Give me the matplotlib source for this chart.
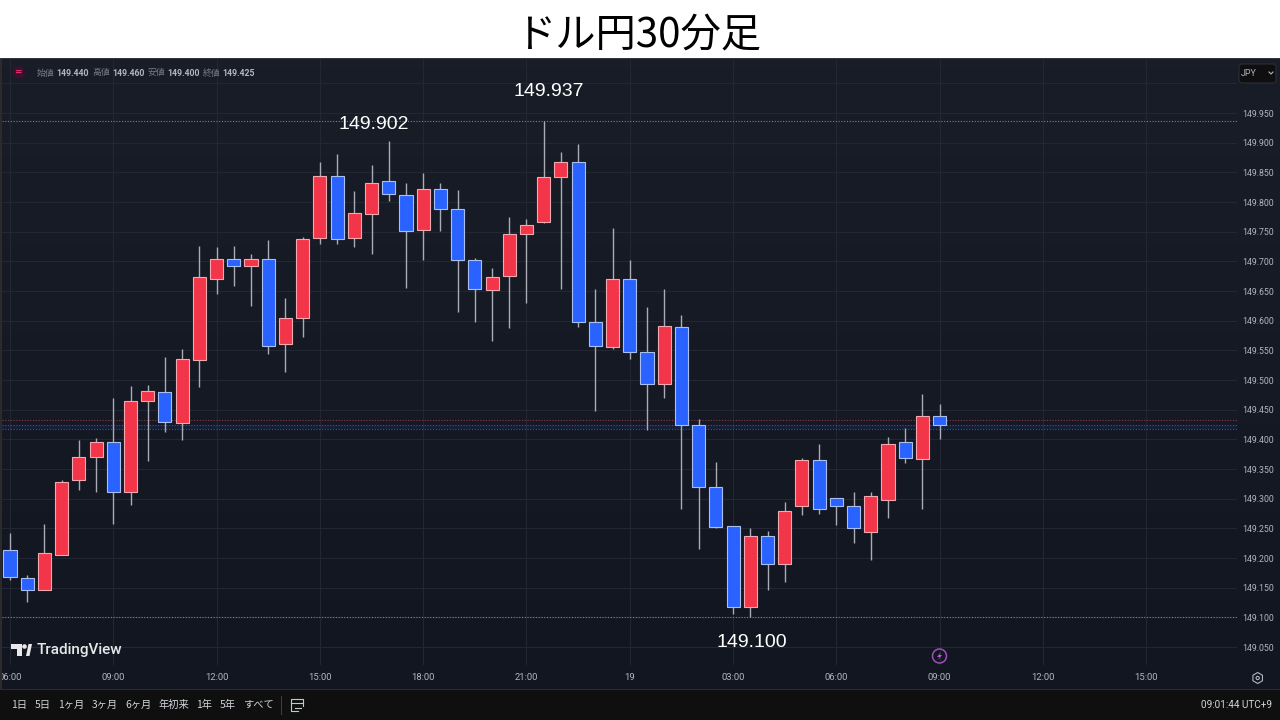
"""
Dollar-yen 30 minute candles, TradingView dark look.
"""
import matplotlib

matplotlib.use("Agg")
import matplotlib.pyplot as plt
import numpy as np
from matplotlib.patches import Circle, FancyBboxPatch, Polygon, Rectangle, RegularPolygon

W, H = 1280, 720
CJK = ["Noto Sans CJK JP", "DejaVu Sans"]
UI_FONT = "Roboto"

opens = [149.214, 149.166, 149.147, 149.205, 149.332, 149.370, 149.396, 149.311, 149.465, 149.480,
         149.428, 149.534, 149.671, 149.704, 149.692, 149.704, 149.560, 149.604, 149.739, 149.844,
         149.739, 149.780, 149.835, 149.812, 149.753, 149.822, 149.789, 149.703, 149.652, 149.675,
         149.746, 149.766, 149.842, 149.868, 149.598, 149.555, 149.670, 149.548, 149.493, 149.589,
         149.424, 149.320, 149.254, 149.118, 149.237, 149.190, 149.287, 149.366, 149.301, 149.288,
         149.244, 149.298, 149.396, 149.367, 149.440]
highs = [149.243, 149.171, 149.257, 149.331, 149.399, 149.403, 149.469, 149.490, 149.492, 149.539,
         149.552, 149.726, 149.725, 149.726, 149.712, 149.736, 149.638, 149.741, 149.868, 149.881,
         149.819, 149.862, 149.902, 149.832, 149.849, 149.832, 149.820, 149.705, 149.688, 149.774,
         149.771, 149.937, 149.885, 149.898, 149.653, 149.757, 149.703, 149.623, 149.653, 149.609,
         149.434, 149.362, 149.254, 149.250, 149.245, 149.294, 149.369, 149.393, 149.302, 149.312,
         149.311, 149.404, 149.419, 149.477, 149.460]
lows = [149.163, 149.126, 149.146, 149.205, 149.315, 149.311, 149.258, 149.290, 149.364, 149.413,
        149.399, 149.489, 149.645, 149.659, 149.624, 149.544, 149.514, 149.573, 149.729, 149.730,
        149.724, 149.712, 149.802, 149.655, 149.703, 149.751, 149.615, 149.598, 149.565, 149.588,
        149.630, 149.765, 149.653, 149.590, 149.448, 149.552, 149.535, 149.416, 149.469, 149.283,
        149.215, 149.250, 149.106, 149.100, 149.147, 149.160, 149.273, 149.275, 149.255, 149.225,
        149.196, 149.268, 149.361, 149.283, 149.400]
closes = [149.168, 149.147, 149.209, 149.329, 149.370, 149.396, 149.311, 149.465, 149.482, 149.429,
          149.535, 149.673, 149.704, 149.692, 149.704, 149.558, 149.605, 149.738, 149.844, 149.737,
          149.781, 149.832, 149.813, 149.752, 149.822, 149.788, 149.703, 149.653, 149.674, 149.746,
          149.762, 149.843, 149.867, 149.598, 149.558, 149.670, 149.548, 149.494, 149.591, 149.424,
          149.319, 149.252, 149.118, 149.237, 149.190, 149.280, 149.366, 149.282, 149.287, 149.251,
          149.304, 149.392, 149.368, 149.439, 149.425]

price_ticks = [149.05, 149.10, 149.15, 149.20, 149.25, 149.30, 149.35, 149.40, 149.45, 149.50,
               149.55, 149.60, 149.65, 149.70, 149.75, 149.80, 149.85, 149.90, 149.95]
grid_only_prices = [150.00]
time_ticks = [0, 6, 12, 18, 24, 30, 36, 42, 48, 54, 60, 66]
time_labels = ["06:00", "09:00", "12:00", "15:00", "18:00", "21:00", "19",
               "03:00", "06:00", "09:00", "12:00", "15:00"]
range_labels = ["1日", "5日", "1ヶ月", "3ヶ月", "6ヶ月", "年初来", "1年", "5年", "すべて"]
range_centers = [19.5, 43, 71, 104.5, 138, 173.5, 204.5, 227.5, 258.5]
header_names = ["始値", "高値", "安値", "終値"]

# high/low marker lines and the current price lines
level_high = 149.937
level_low = 149.100
level_red = 149.433
level_blue = [149.425, 149.417]

UP = "#f23548"
DOWN = "#2962ff"
UP_EDGE = "#f2a9b0"
DOWN_EDGE = "#a9bff2"
WICK = "#a9acb4"
GRID = "#232733"
LABEL = "#b2b5be"


def fx(x):
    return x / W


def fy(y):
    return 1 - y / H


fig = plt.figure(figsize=(W / 100, H / 100), dpi=100, facecolor="white")

# gradient pane behind the chart
bg = fig.add_axes([0, fy(690), 1, (690 - 58) / H], zorder=-2)
shade = np.linspace(0, 1, 64)[:, None, None]
top_col = np.array([25, 29, 40])[None, None, :] / 255
bottom_col = np.array([18, 22, 32])[None, None, :] / 255
bg.imshow(top_col * (1 - shade) + bottom_col * shade, aspect="auto")
bg.axis("off")

ax = fig.add_axes([fx(2), fy(665), (1237 - 2) / W, (665 - 58) / H], zorder=1)
ax.patch.set_visible(False)
for s in ax.spines.values():
    s.set_visible(False)

x = np.arange(len(opens))
o, h, l, c = map(np.array, (opens, highs, lows, closes))
up = c >= o

ax.vlines(x, l, h, color=WICK, lw=1.0, zorder=3)
ax.bar(x[up], (c - o)[up], bottom=o[up], width=0.76, color=UP, edgecolor=UP_EDGE, lw=0.8, zorder=4)
ax.bar(x[~up], (c - o)[~up], bottom=o[~up], width=0.76, color=DOWN, edgecolor=DOWN_EDGE, lw=0.8, zorder=4)

ax.set_xlim(-0.465, 71.27)
ax.set_ylim(149.0198, 150.0427)

for p in price_ticks + grid_only_prices:
    ax.axhline(p, color=GRID, lw=0.8, zorder=1)
for t in time_ticks:
    ax.axvline(t, color=GRID, lw=0.8, zorder=1)

ax.axhline(level_high, color="#7d808a", lw=0.8, ls=(0, (1, 1.5)), zorder=2)
ax.axhline(level_low, color="#7d808a", lw=0.8, ls=(0, (1, 1.5)), zorder=2)
ax.axhspan(level_blue[1], level_blue[0], color="#2962ff", alpha=0.10, lw=0, zorder=2)
ax.axhline(level_red, color="#8c3a48", lw=0.8, ls=(0, (1, 1.5)), zorder=2)
for p in level_blue:
    ax.axhline(p, color="#3553b0", lw=0.8, ls=(0, (1, 1.5)), zorder=2)

ax.yaxis.tick_right()
ax.set_yticks(price_ticks, [f"{p:.3f}" for p in price_ticks], fontfamily=UI_FONT, fontsize=6.3, color=LABEL)
ax.set_xticks(time_ticks, time_labels, fontfamily=UI_FONT, fontsize=6.8, color=LABEL)
ax.tick_params(axis="both", length=0)
ax.tick_params(axis="y", pad=4)
ax.tick_params(axis="x", pad=5.5)

# pixel offsets from the extreme to the hand placed labels
i_a, i_b, i_c = 22, 31, 43
for i, val, off in [(i_a, highs[i_a], (-15, 17)), (i_b, highs[i_b], (5, 29)), (i_c, lows[i_c], (2, -25))]:
    ax.annotate(f"{val:.3f}", (i, val), xytext=off, textcoords="offset pixels", ha="center", va="center",
                color="white", fontsize=14, fontfamily="Liberation Sans", zorder=6)

# title strip
fig.text(fx(638), fy(35), "ドル円30分足", ha="center", va="center", fontsize=29, color="black", family=CJK)

# strips and borders
fig.add_artist(Rectangle((0, 0), 1, fy(690), transform=fig.transFigure, color="#0f0f0f", lw=0, zorder=5))
fig.add_artist(Rectangle((0, fy(690)), 1, 1 / H, transform=fig.transFigure, color="#2a2c33", lw=0, zorder=5))
fig.add_artist(Rectangle((0, fy(690)), fx(2), (690 - 58) / H, transform=fig.transFigure, color="#2b2b2e", lw=0, zorder=5))
fig.add_artist(Rectangle((0, fy(59)), 1, 1 / H, transform=fig.transFigure, color="#34373f", lw=0, zorder=5))

pix = matplotlib.transforms.Affine2D().scale(1, -1).translate(0, H)

# header line with the last candle
vals = [opens[-1], highs[-1], lows[-1], closes[-1]]
for name, v, xn, xv in zip(header_names, vals, [37, 92, 148, 203], [56, 112, 167, 222]):
    fig.text(fx(xn), fy(73), name, ha="left", va="center", fontsize=6.4, color="#787b86", family=CJK, zorder=6)
    fig.text(fx(xv), fy(73), f"{v:.3f}", ha="left", va="center", fontsize=6.3, color=LABEL,
             family=UI_FONT, fontweight="bold", zorder=6)

fig.add_artist(Circle((19, 72.5), 6, transform=pix, color="#3e1030", lw=0, zorder=6))
fig.text(fx(19), fy(72.5), "=", ha="center", va="center", fontsize=6.5, color="#e0306a", zorder=7, fontweight="bold")

# currency button
fig.add_artist(FancyBboxPatch((1240, 65), 35, 17, boxstyle="round,pad=1,rounding_size=3", transform=pix,
                              fc="#0f0f0f", ec="#2a2e39", lw=0.8, zorder=6))
fig.text(fx(1241), fy(73), "JPY", ha="left", va="center", fontsize=6.4, color=LABEL, family=UI_FONT, zorder=7)
fig.add_artist(plt.Line2D([1269, 1271, 1273], [72, 74, 72], transform=pix, color=LABEL, lw=0.8, zorder=7))

# logo
fig.add_artist(Polygon([(11, 644), (22, 644), (22, 656), (17, 656), (17, 649), (11, 649)], transform=pix,
                       color="#e8e8ea", lw=0, zorder=6))
fig.add_artist(Circle((24.5, 646.5), 2.3, transform=pix, color="#e8e8ea", lw=0, zorder=6))
fig.add_artist(Polygon([(26, 656), (28.5, 644), (32, 644), (29.5, 656)], transform=pix, color="#e8e8ea", lw=0, zorder=6))
fig.text(fx(36.5), fy(650), "TradingView", ha="left", va="center", fontsize=11, color="#e8e8ea",
         family="Roboto", fontweight="medium", zorder=6)

# news marker and settings icon
fig.add_artist(Circle((939.5, 656), 7, transform=pix, fc="none", ec="#9c4fb8", lw=1.1, zorder=6))
fig.add_artist(Polygon([(941, 652), (937, 657), (939.5, 657), (938, 660), (942, 655), (939.5, 655)], transform=pix,
                       color="#b45cd0", lw=0, zorder=7))
fig.add_artist(RegularPolygon((1257.7, 678), 6, radius=5.5, transform=pix, fc="none", ec=LABEL, lw=0.8, zorder=6))
fig.add_artist(Circle((1257.7, 678), 1.6, transform=pix, fc="none", ec=LABEL, lw=0.8, zorder=6))

# bottom toolbar
for label, cx in zip(range_labels, range_centers):
    fig.text(fx(cx), fy(705), label, ha="center", va="center", fontsize=7.4, color="#d1d4dc", family=CJK, zorder=6)
fig.add_artist(plt.Line2D([281, 281], [696, 714], transform=pix, color="#3a3c42", lw=0.8, zorder=6))
fig.add_artist(plt.Line2D([298, 291, 291, 303, 303], [711, 711, 699, 699, 706], transform=pix, color="#c4c7cf", lw=0.8, zorder=6))
fig.add_artist(plt.Line2D([291, 303], [702.5, 702.5], transform=pix, color="#c4c7cf", lw=0.8, zorder=6))
fig.add_artist(plt.Line2D([295, 301], [708, 708], transform=pix, color="#c4c7cf", lw=0.8, zorder=6))
fig.text(fx(1272), fy(705), "09:01:44 UTC+9", ha="right", va="center", fontsize=7.2, color="#d1d4dc",
         family=UI_FONT, zorder=6)

fig.savefig("out.png", dpi=100, facecolor=fig.get_facecolor())
